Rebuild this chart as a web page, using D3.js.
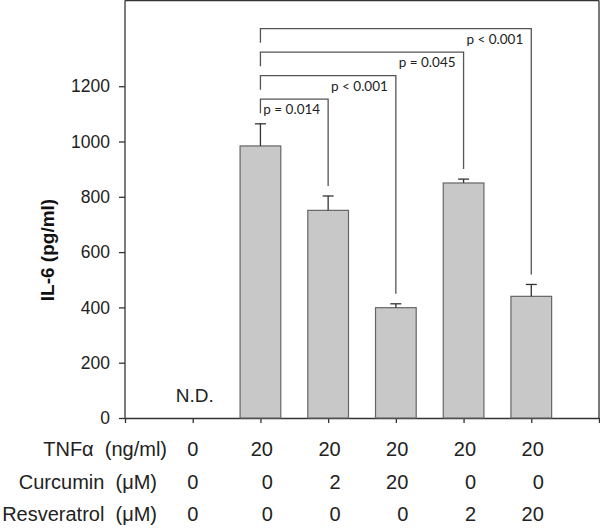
<!DOCTYPE html>
<html>
<head>
<meta charset="utf-8">
<script src="https://cdn.jsdelivr.net/npm/d3@7"></script>
<style>
  body { margin: 0; background: #fff; }
  svg { display: block; font-family: Arial, "Liberation Sans", sans-serif; }
</style>
</head>
<body>
<div id="chart"></div>
<script>
// groups along the x axis (positions 1..6)
const groups = ["control", "TNF", "TNF+Cur2", "TNF+Cur20", "TNF+Res2", "TNF+Res20"];
const il6Mean = [null, 984, 751, 399, 850, 440];   // pg/ml, control not detected
const il6Err = [null, 80, 52, 14, 14, 43];
const yTicks = [0, 200, 400, 600, 800, 1000, 1200];

// significance brackets vs TNF alone
const compFrom = [1, 1, 1, 1];
const compTo = [2, 3, 4, 5];
const compLabel = ["p = 0.014", "p < 0.001", "p = 0.045", "p < 0.001"];

// treatment table under the axis
const rowLabels = ["TNF\u03b1  (ng/ml)", "Curcumin  (\u03bcM)", "Resveratrol  (\u03bcM)"];
const tnfDose = ["0", "20", "20", "20", "20", "20"];
const curDose = ["0", "0", "2", "20", "0", "0"];
const resDose = ["0", "0", "0", "0", "2", "20"];

const W = 600, H = 531;
const svg = d3.select("#chart").append("svg")
  .attr("width", W)
  .attr("height", H);

const x = d3.scaleLinear().domain([0, 7]).range([125, 599]);
const y = d3.scaleLinear().domain([0, 1510]).range([418, 0.5]);

const axisCol = "#333";

// frame: top and right borders
svg.append("line")
  .attr("x1", x(0)).attr("x2", x(7))
  .attr("y1", y(1510)).attr("y2", y(1510))
  .attr("stroke", axisCol).attr("stroke-width", 1.3);
svg.append("line")
  .attr("x1", x(7)).attr("x2", x(7))
  .attr("y1", y(1510)).attr("y2", y(0))
  .attr("stroke", axisCol).attr("stroke-width", 1.3);

// y axis
const yAxis = d3.axisLeft(y).tickValues(yTicks).tickSize(6).tickSizeOuter(0)
  .tickPadding(9).tickFormat(d3.format("d"));
const gy = svg.append("g")
  .attr("transform", "translate(" + x(0) + ",0)")
  .call(yAxis);
gy.attr("font-family", null).attr("font-size", null);
gy.select(".domain").attr("stroke", axisCol).attr("stroke-width", 1.3)
  .attr("d", "M0," + y(1510) + "V" + y(0));
gy.selectAll(".tick line").attr("stroke", axisCol).attr("stroke-width", 1.3);
gy.selectAll(".tick text")
  .attr("font-size", "17.5px")
  .attr("fill", "#222");

// x axis, plain ticks
const xAxis = d3.axisBottom(x).tickValues(d3.range(0, 8)).tickSize(5).tickSizeOuter(0).tickFormat("");
const gx = svg.append("g")
  .attr("transform", "translate(0," + y(0) + ")")
  .call(xAxis);
gx.select(".domain").attr("stroke", axisCol).attr("stroke-width", 1.3);
gx.selectAll(".tick line").attr("stroke", axisCol).attr("stroke-width", 1.3);

// y label
svg.append("text")
  .attr("transform", "translate(54,250) rotate(-90)")
  .attr("text-anchor", "middle")
  .attr("font-size", "19px")
  .attr("font-weight", "bold")
  .attr("fill", "#111")
  .text("IL-6 (pg/ml)");

// bars
const barW = 40.7;
const barData = groups.map(function(g, i) {
  return { i: i, mean: il6Mean[i], err: il6Err[i] };
}).filter(function(d) { return d.mean !== null; });

svg.selectAll("rect.bar")
  .data(barData)
  .enter()
  .append("rect")
  .attr("class", "bar")
  .attr("x", function(d) { return x(d.i + 1) - barW / 2; })
  .attr("width", barW)
  .attr("y", function(d) { return y(d.mean); })
  .attr("height", function(d) { return y(0) - y(d.mean); })
  .attr("fill", "#c8c8c8")
  .attr("stroke", "#666")
  .attr("stroke-width", 1.2);

// error bars (upper only)
const errG = svg.selectAll("g.err")
  .data(barData)
  .enter()
  .append("g")
  .attr("class", "err")
  .attr("stroke", "#333")
  .attr("stroke-width", 1.3);
errG.append("line")
  .attr("x1", function(d) { return x(d.i + 1); })
  .attr("x2", function(d) { return x(d.i + 1); })
  .attr("y1", function(d) { return y(d.mean); })
  .attr("y2", function(d) { return y(d.mean + d.err); });
errG.append("line")
  .attr("x1", function(d) { return x(d.i + 1) - 5.5; })
  .attr("x2", function(d) { return x(d.i + 1) + 5.5; })
  .attr("y1", function(d) { return y(d.mean + d.err); })
  .attr("y2", function(d) { return y(d.mean + d.err); });

// N.D. for control
svg.append("text")
  .attr("x", x(1) + 2)
  .attr("y", 402)
  .attr("text-anchor", "middle")
  .attr("font-size", "19px")
  .attr("fill", "#222")
  .text("N.D.");

// brackets
const comps = compLabel.map(function(l, k) {
  return { from: compFrom[k], to: compTo[k], label: l, k: k };
});
const brG = svg.selectAll("g.bracket")
  .data(comps)
  .enter()
  .append("g")
  .attr("class", "bracket");
brG.append("path")
  .attr("fill", "none")
  .attr("stroke", "#555")
  .attr("stroke-width", 1.3)
  .attr("d", function(d) {
    const top = y(1153 + d.k * 85);
    const x1 = x(d.from + 1), x2 = x(d.to + 1);
    const end = y(il6Mean[d.to] + il6Err[d.to]) - 10;
    return "M" + x1 + "," + (top + 14) + "V" + top + "H" + x2 + "V" + end;
  });
brG.append("text")
  .attr("x", function(d) { return x(d.to + 1) - 8; })
  .attr("y", function(d) { return y(1153 + d.k * 85) + 15; })
  .attr("text-anchor", "end")
  .attr("font-family", "Lato, 'Open Sans', sans-serif")
  .attr("font-size", "13.5px")
  .attr("fill", "#222")
  .text(function(d) { return d.label; });

// treatment table
const rows = [tnfDose, curDose, resDose];
const rowBase = [456, 488.5, 521];
const rowRight = [167, 157, 157];
rows.forEach(function(vals, r) {
  svg.append("text")
    .attr("x", rowRight[r])
    .attr("y", rowBase[r])
    .attr("text-anchor", "end")
    .attr("font-size", "20px")
    .attr("fill", "#222")
    .attr("xml:space", "preserve")
    .style("white-space", "pre")
    .text(rowLabels[r]);
  svg.selectAll("text.cell" + r)
    .data(vals)
    .enter()
    .append("text")
    .attr("class", "cell" + r)
    .attr("x", function(d, i) { return i === 0 ? x(i + 1) : x(i + 1) + 12.5; })
    .attr("y", rowBase[r])
    .attr("text-anchor", function(d, i) { return i === 0 ? "middle" : "end"; })
    .attr("font-size", "20px")
    .attr("fill", "#222")
    .text(function(d) { return d; });
});
</script>
</body>
</html>
